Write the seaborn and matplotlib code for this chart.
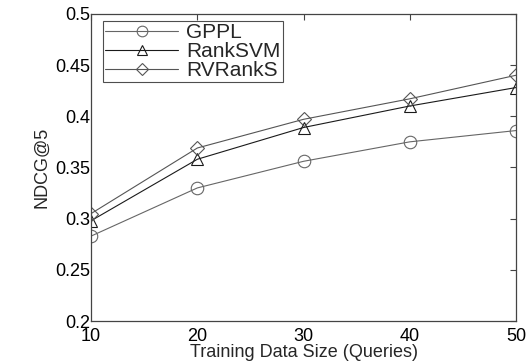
import numpy as np
import pandas as pd
import matplotlib
matplotlib.use('Agg')
import matplotlib.pyplot as plt
import seaborn as sns

sns.set_style('white')
plt.rcParams['font.family'] = ['Liberation Sans', 'DejaVu Sans']

# data
sizes = [10, 20, 30, 40, 50]
gppl = [0.283, 0.330, 0.356, 0.375, 0.386]
ranksvm = [0.298, 0.358, 0.389, 0.410, 0.428]
rvranks = [0.305, 0.369, 0.397, 0.417, 0.440]

methods = ['GPPL', 'RankSVM', 'RVRankS']
df = pd.DataFrame({
    'size': sizes * 3,
    'ndcg': gppl + ranksvm + rvranks,
    'method': np.repeat(methods, len(sizes)),
})

colors = {'GPPL': '#666666', 'RankSVM': '#1a1a1a', 'RVRankS': '#555555'}
markers = {'GPPL': 'o', 'RankSVM': '^', 'RVRankS': 'D'}
msizes = {'GPPL': 9, 'RankSVM': 9, 'RVRankS': 7}

fs = 13

fig = plt.figure(figsize=(5.27, 3.64), dpi=100)
ax = fig.add_axes([0.173, 0.118, 0.806, 0.844])

for m in methods:
    sub = df[df['method'] == m]
    sns.lineplot(data=sub, x='size', y='ndcg', ax=ax, color=colors[m],
                 marker=markers[m], markersize=msizes[m], markerfacecolor='none',
                 markeredgecolor=colors[m], markeredgewidth=0.8, linewidth=0.8,
                 label=m)

ax.set_xlim(10, 50)
ax.set_ylim(0.2, 0.5)
ax.set_xticks(sizes)
ax.set_yticks([0.2, 0.25, 0.3, 0.35, 0.4, 0.45, 0.5])
ax.set_yticklabels(['0.2', '0.25', '0.3', '0.35', '0.4', '0.45', '0.5'])
ax.tick_params(direction='in', top=True, right=True, length=4, width=0.8,
               labelsize=fs, colors='#444444', labelcolor='black', pad=1)
ax.tick_params(axis='x', pad=5)
for s in ax.spines.values():
    s.set_color('#444444')
    s.set_linewidth(0.9)

ax.set_xlabel('Training Data Size (Queries)', fontsize=fs, labelpad=-1)
ax.set_ylabel('NDCG@5', fontsize=fs, labelpad=3)

leg = ax.legend(loc='upper left', bbox_to_anchor=(0.018, 0.99), fontsize=15,
                handlelength=3.5, frameon=True, fancybox=False, borderpad=0.1,
                labelspacing=0.0, handletextpad=0.4, borderaxespad=0.2,
                markerscale=0.85)
leg.get_frame().set_edgecolor('#222222')
leg.get_frame().set_linewidth(0.8)

fig.savefig('out.png', dpi=100)
